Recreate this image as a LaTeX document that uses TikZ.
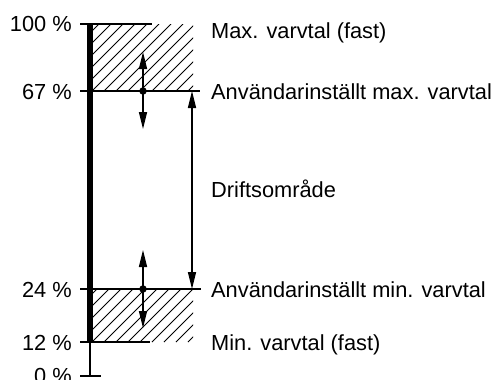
\documentclass[tikz,border=0pt]{standalone}
\usepackage{fontspec}
\setmainfont{Liberation Sans}
\usetikzlibrary{arrows.meta}
\begin{document}
\begin{tikzpicture}[x=1pt,y=-1pt,
  lbl/.style={font=\fontsize{21.8}{26}\selectfont, inner sep=0pt},
  ln/.style={line width=1.4pt},
  hatchline/.style={line width=0.75pt},
  arr/.style={ln,-{Triangle[length=17pt,width=8pt]}},
  dim/.style={ln,{Triangle[length=17pt,width=8pt]}-{Triangle[length=17pt,width=8pt]}},
  dot/.style={circle,fill=black,inner sep=0pt,minimum size=7.5pt}]
\useasboundingbox (0,0) rectangle (498,380);
% hatching
\begin{scope}
\clip (92,24) rectangle (193,91);
\foreach \i in {-100,-88,...,200} \draw[hatchline] (\i,91) -- (\i+67,24);
\end{scope}
\begin{scope}
\clip (92,289) rectangle (193,342);
\foreach \i in {-100,-88,...,200} \draw[hatchline] (\i,342) -- (\i+53,289);
\end{scope}
% coordinates
\coordinate (t100a) at (80,24);  \coordinate (t100b) at (152,24);
\coordinate (t67a) at (80,91);   \coordinate (t67b) at (200,91);
\coordinate (t24a) at (80,289);  \coordinate (t24b) at (201,289);
\coordinate (t12a) at (80,342);  \coordinate (t12b) at (150,342);
\coordinate (t0a) at (80,376);   \coordinate (t0b) at (101,376);
\coordinate (bartop) at (90,24); \coordinate (barbot) at (90,343);
\coordinate (axbot) at (90,376);
% axis
\draw[line width=5.5pt] (bartop) -- (barbot);
\draw[ln] (barbot) -- (axbot);
\draw[ln] (t100a) -- (t100b);
\draw[ln] (t67a) -- (t67b);
\draw[ln] (t24a) -- (t24b);
\draw[ln] (t12a) -- (t12b);
\draw[ln] (t0a) -- (t0b);
% adjustment arrows
\node[dot] (dmax) at (143,91) {};
\node[dot] (dmin) at (143,289) {};
\coordinate (umax) at (143,52);  \coordinate (lmax) at (143,129);
\coordinate (umin) at (143,250); \coordinate (lmin) at (143,328);
\draw[arr] (dmax.center) -- (umax);
\draw[arr] (dmax.center) -- (lmax);
\draw[arr] (dmin.center) -- (umin);
\draw[arr] (dmin.center) -- (lmin);
% range arrow
\coordinate (r1) at (192,91); \coordinate (r2) at (192,289);
\draw[dim] (r1) -- (r2);
% left labels
\node[lbl,anchor=base east] (l100) at (72,31) {100 \%};
\node[lbl,anchor=base east] (l67) at (72,99) {67 \%};
\node[lbl,anchor=base east] (l24) at (72,297) {24 \%};
\node[lbl,anchor=base east] (l12) at (72,350) {12 \%};
\node[lbl,anchor=base east] (l0) at (72,383) {0 \%};
% right labels
\node[lbl,anchor=base west] (rmaxf) at (211,38) {Max. varvtal (fast)};
\node[lbl,anchor=base west] (rmax) at (211,99) {Användarinställt max. varvtal};
\node[lbl,anchor=base west] (rdrift) at (211,197.5) {Driftsområde};
\node[lbl,anchor=base west] (rmin) at (211,297) {Användarinställt min. varvtal};
\node[lbl,anchor=base west] (rminf) at (211,350) {Min. varvtal (fast)};
\end{tikzpicture}
\end{document}
